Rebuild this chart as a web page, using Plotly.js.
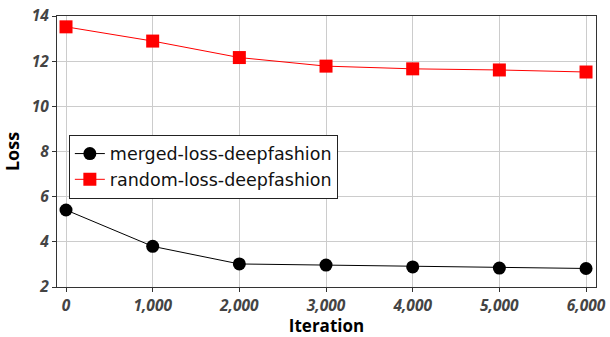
<!DOCTYPE html>
<html><head><meta charset="utf-8">
<script src="https://cdn.plot.ly/plotly-3.0.1.min.js"></script>
<style>body{margin:0;background:#fff}#chart{width:610px;height:337px}</style>
</head><body><div id="chart"></div>
<script>
const iterations = [0, 1000, 2000, 3000, 4000, 5000, 6000];
const mergedLoss = [5.41, 3.80, 3.02, 2.97, 2.89, 2.84, 2.82];
const randomLoss = [13.52, 12.89, 12.16, 11.78, 11.66, 11.61, 11.52];
const seriesNames = ["merged-loss-deepfashion", "random-loss-deepfashion"];
const xTicks = [0, 1000, 2000, 3000, 4000, 5000, 6000];
const xTickText = ["0", "1,000", "2,000", "3,000", "4,000", "5,000", "6,000"];
const yTicks = [2, 4, 6, 8, 10, 12, 14];

const fontFam = "Open Sans, DejaVu Sans, sans-serif";
const data = [
  {x: iterations, y: mergedLoss, name: seriesNames[0], mode: "lines+markers",
   line: {color: "#000", width: 1}, marker: {symbol: "circle", size: 13, color: "#000"}},
  {x: iterations, y: randomLoss, name: seriesNames[1], mode: "lines+markers",
   line: {color: "#ff0000", width: 1}, marker: {symbol: "square", size: 13, color: "#ff0000"}}
];
const layout = {
  width: 610, height: 337,
  margin: {l: 57, r: 14, t: 16, b: 50},
  paper_bgcolor: "#fff", plot_bgcolor: "#fff",
  showlegend: true,
  legend: {x: 0.022, y: 0.562, xanchor: "left", yanchor: "top", bgcolor: "#fff",
    bordercolor: "#222", borderwidth: 1, font: {family: "DejaVu Sans, sans-serif", size: 17.5, color: "#111"},
    tracegroupgap: 0, itemwidth: 30},
  xaxis: {range: [-104, 6115], tickvals: xTicks, ticktext: xTickText,
    showgrid: true, gridcolor: "#cccccc", gridwidth: 1, zeroline: false,
    showline: true, linecolor: "#333", linewidth: 1, mirror: true,
    ticks: "outside", ticklen: 4, tickcolor: "#333",
    tickfont: {family: fontFam, size: 15.5, color: "#444", weight: "bold", style: "italic"},
    title: {text: "Iteration", standoff: 6, font: {family: fontFam, size: 17, color: "#000", weight: "bold"}}},
  yaxis: {range: [2, 14], tickvals: yTicks,
    showgrid: true, gridcolor: "#cccccc", gridwidth: 1, zeroline: false,
    showline: true, linecolor: "#333", linewidth: 1, mirror: true,
    ticks: "outside", ticklen: 4, tickcolor: "#333",
    tickfont: {family: fontFam, size: 15.5, color: "#444", weight: "bold", style: "italic"},
    title: {text: "Loss", standoff: 10, font: {family: fontFam, size: 18, color: "#000", weight: "bold"}}}
};
Plotly.newPlot("chart", data, layout, {displayModeBar: false, staticPlot: true});
</script></body></html>
